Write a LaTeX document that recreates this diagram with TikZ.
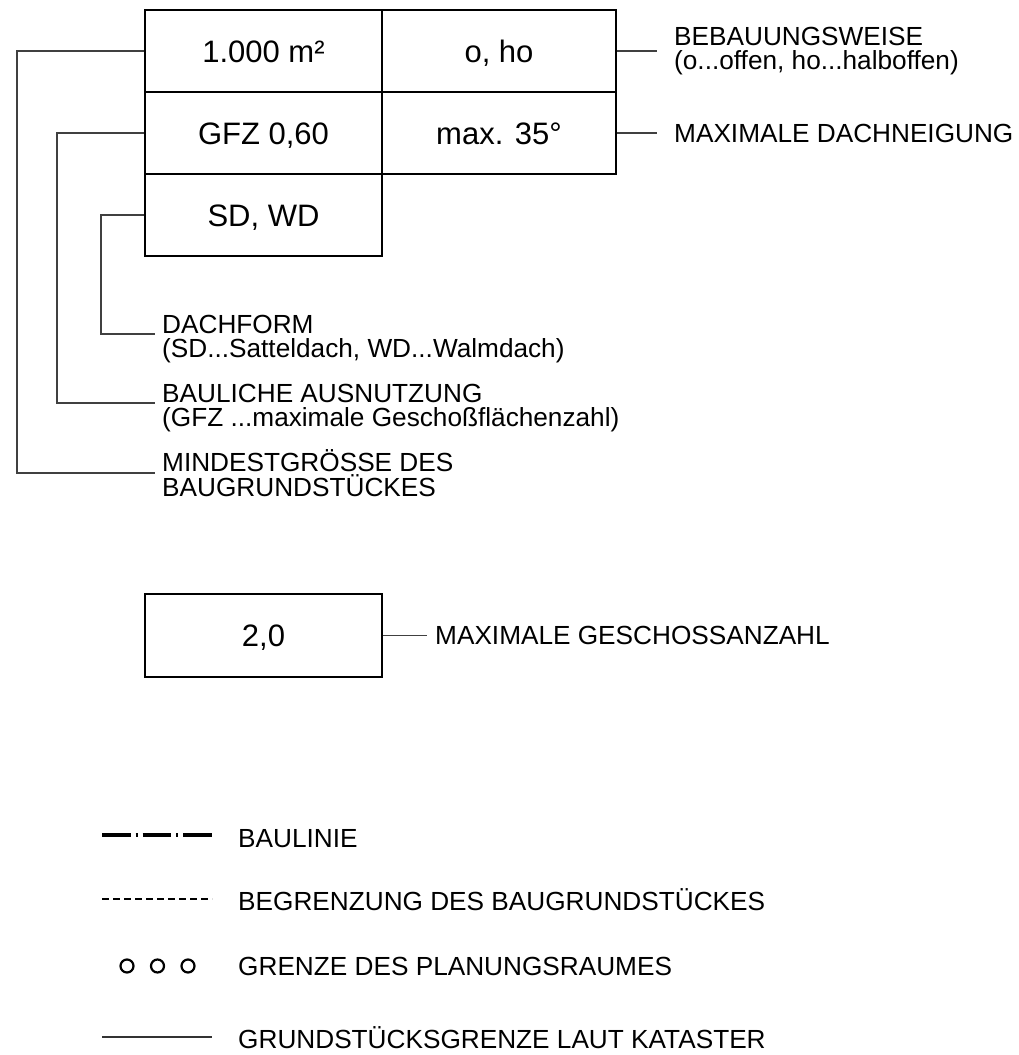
\documentclass[tikz,border=0pt]{standalone}
\usepackage{fontspec}
\setmainfont{Liberation Sans}
\usepackage{tikz}
\usetikzlibrary{calc}

\begin{document}
\begin{tikzpicture}[x=1pt, y=-1pt,
        feld/.style={
            rectangle, draw=black, line width=1.6pt,
            minimum width=237pt, minimum height=82pt, inner sep=0pt,
            text height=22.2pt, text depth=0pt,
            font=\fontsize{31}{36}\selectfont
        },
        erkl/.style={
            anchor=west, align=left, inner xsep=7pt, inner ysep=0pt,
            font=\fontsize{26.2}{24.5}\selectfont
        },
        legtext/.style={anchor=base west, inner sep=0pt, font=\fontsize{26.2}{24.5}\selectfont},
        fuehrung/.style={draw=black!75, line width=1.2pt}
    ]

    \useasboundingbox (0,0) rectangle (1018,1055);

    % Nutzungsschablone
    \node[feld] (flaeche) at (263.5,51) {1.000 m²};
    \node[feld, minimum width=234pt] (bauweise) at (499,51) {o, ho};
    \node[feld] (gfz) at (263.5,133) {GFZ 0,60};
    \node[feld, minimum width=234pt] (neigung) at (499,133) {max. 35°};
    \node[feld] (dach) at (263.5,215) {SD, WD};

    % Erklaerungen (zweizeilige Texte etwas nach unten versetzt)
    \node[erkl, yshift=-5pt] (dachform) at (155,334) {DACHFORM\\(SD...Satteldach, WD...Walmdach)};
    \node[erkl, yshift=-5pt] (ausnutzung) at (155,403) {BAULICHE AUSNUTZUNG\\(GFZ ...maximale Geschoßflächenzahl)};
    \node[erkl] (mindest) at (155,473) {MINDESTGRÖSSE DES\\BAUGRUNDSTÜCKES};
    \node[erkl, inner xsep=17pt] (bebauung) at (657,51) {BEBAUUNGSWEISE\\(o...offen, ho...halboffen)};
    \node[erkl, inner xsep=17pt] (dachneigung) at (657,133) {MAXIMALE DACHNEIGUNG};

    % Hinweislinien
    \coordinate (k1) at (17,0);
    \coordinate (k2) at (57,0);
    \coordinate (k3) at (101,0);
    \draw[fuehrung] (flaeche.west) -- (flaeche.west -| k1) |- (mindest.west);
    \draw[fuehrung] (gfz.west) -- (gfz.west -| k2) |- ([yshift=5pt]ausnutzung.west);
    \draw[fuehrung] (dach.west) -- (dach.west -| k3) |- ([yshift=5pt]dachform.west);
    \draw[fuehrung] (bauweise.east) -- (bebauung.west);
    \draw[fuehrung] (neigung.east) -- (dachneigung.west);

    % Geschossanzahl
    \node[feld, minimum height=83pt] (geschosse) at (263.5,635.5) {2,0};
    \node[erkl, inner xsep=8pt] (geschossanzahl) at (427,635.5) {MAXIMALE GESCHOSSANZAHL};
    \draw[fuehrung] (geschosse.east) -- (geschossanzahl.west);

    % Legende
    \coordinate (bl1) at (102,835);  \coordinate (bl2) at (212,835);
    \coordinate (bg1) at (102,899);  \coordinate (bg2) at (212,899);
    \coordinate (gk1) at (102,1037); \coordinate (gk2) at (212,1037);
    \draw[line width=4pt, dash pattern=on 28.7pt off 5pt on 2pt off 5pt] (bl1) -- (bl2);
    \draw[line width=1.8pt, dash pattern=on 7pt off 4pt] (bg1) -- (bg2);
    \foreach \x in {127,157.5,188}
        \draw[line width=2.2pt] (\x,966) circle[radius=6.5pt];
    \draw[line width=1.2pt, black!80] (gk1) -- (gk2);

    \node[legtext] (baulinie) at (238,847) {BAULINIE};
    \node[legtext] (begrenzung) at (238,910) {BEGRENZUNG DES BAUGRUNDSTÜCKES};
    \node[legtext] (planungsraum) at (238,975) {GRENZE DES PLANUNGSRAUMES};
    \node[legtext] (kataster) at (238,1048) {GRUNDSTÜCKSGRENZE LAUT KATASTER};

\end{tikzpicture}
\end{document}
